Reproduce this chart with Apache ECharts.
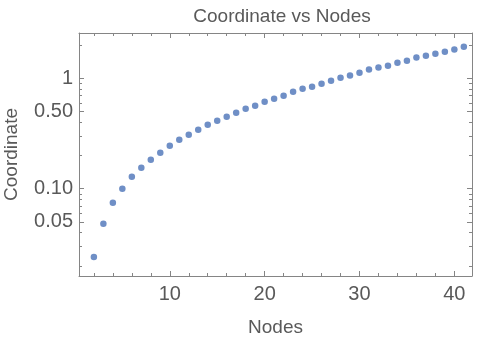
<!DOCTYPE html>
<html><head><meta charset="utf-8">
<script src="https://cdn.jsdelivr.net/npm/echarts@6/dist/echarts.min.js"></script>
<style>html,body{margin:0;padding:0;background:#fff}#c{width:482px;height:344px}</style>
</head><body><div id="c"></div>
<script>
const nodes = [2,3,4,5,6,7,8,9,10,11,12,13,14,15,16,17,18,19,20,21,22,23,24,25,26,27,28,29,30,31,32,33,34,35,36,37,38,39,40,41];
const coord = [0.0241,0.0482,0.0747,0.100,0.1285,0.155,0.183,0.212,0.245,0.278,0.308,0.342,0.380,0.413,0.449,0.488,0.530,0.565,0.614,0.653,0.695,0.756,0.805,0.839,0.893,0.951,1.01,1.06,1.12,1.20,1.25,1.30,1.38,1.44,1.54,1.60,1.67,1.74,1.82,1.93];
const yMajor = [0.05,0.1,0.5,1];
const yMajorLabels = ['0.05','0.10','0.50','1'];
const yMinor = [0.02,0.03,0.04,0.06,0.07,0.08,0.09,0.2,0.3,0.4,0.6,0.7,0.8,0.9,2];
const xMajor = [10,20,30,40];
const xMinor = [2,4,6,8,12,14,16,18,22,24,26,28,32,34,36,38];

const frame = '#858585', txt = '#595959', font = 'Liberation Sans';
const YMIN = 0.0162, YMAX = 2.57, XMIN = 0.43, XMAX = 41.86;
function ylab(v){ for (let i=0;i<yMajor.length;i++){ if (Math.abs(v-yMajor[i])/yMajor[i] < 1e-6) return yMajorLabels[i]; } return ''; }
function yAx(pos, major, show){
  return {type:'log', logBase:10, min:YMIN, max:YMAX, position:pos, gridIndex:0,
    axisLine:{show:show, lineStyle:{color:frame, width:1}},
    axisTick:{show:true, inside:true, length: major?5:3, customValues: major?yMajor:yMinor, lineStyle:{color:frame}},
    axisLabel:{show: major && pos==='left', customValues: yMajor, formatter: ylab, color:txt, fontSize:20, fontFamily:font, margin:6},
    splitLine:{show:false}, minorTick:{show:false},
    name: (major && pos==='left') ? 'Coordinate' : '', nameLocation:'middle', nameGap:58, nameRotate:90,
    nameTextStyle:{color:txt, fontSize:19, fontFamily:font}};
}
function xAx(pos, major, show){
  return {type:'value', min:XMIN, max:XMAX, position:pos, gridIndex:0,
    axisLine:{show:show, onZero:false, lineStyle:{color:frame, width:1}},
    axisTick:{show:true, inside:true, length: major?5:3, customValues: major?xMajor:xMinor, lineStyle:{color:frame}},
    axisLabel:{show: major && pos==='bottom', customValues: xMajor, color:txt, fontSize:20, fontFamily:font, margin:8},
    splitLine:{show:false},
    name: (major && pos==='bottom') ? 'Nodes' : '', nameLocation:'middle', nameGap:42,
    nameTextStyle:{color:txt, fontSize:19, fontFamily:font}};
}
const chart = echarts.init(document.getElementById('c'), null, {renderer:'canvas'});
chart.setOption({
  animation:false,
  backgroundColor:'#fff',
  title:{text:'Coordinate vs Nodes', left:277, textAlign:'center', top:2, textStyle:{color:txt, fontSize:19, fontWeight:'normal', fontFamily:font}},
  grid:{left:79, right:10, top:33, bottom:68, containLabel:false, outerBoundsMode:'none'},
  xAxis:[xAx('bottom',true,true), xAx('bottom',false,false), xAx('top',true,true), xAx('top',false,false)],
  yAxis:[yAx('left',true,true), yAx('left',false,false), yAx('right',true,true), yAx('right',false,false)],
  series:[{type:'scatter', xAxisIndex:0, yAxisIndex:0, symbolSize:6.5,
    itemStyle:{color:'#6f8fc6', opacity:1},
    data: nodes.map((n,i)=>[n, coord[i]])}]
});
</script></body></html>
